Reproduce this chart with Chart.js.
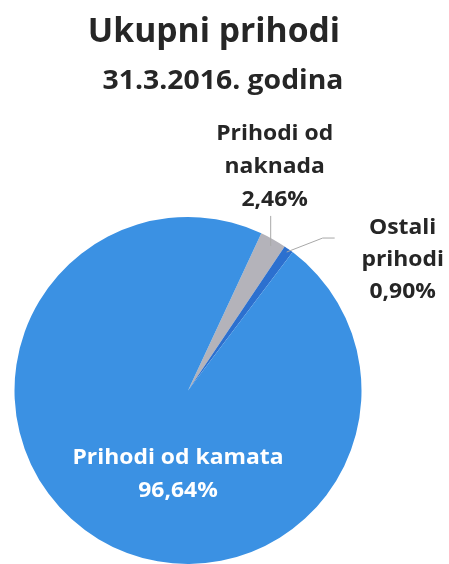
<!DOCTYPE html>
<html>
<head>
<meta charset="utf-8">
<script src="https://cdn.jsdelivr.net/npm/chart.js@4/dist/chart.umd.min.js"></script>
<style>
  html, body { margin: 0; padding: 0; background: #ffffff; }
  #wrap { width: 449px; height: 564px; position: relative; }
</style>
</head>
<body>
<div id="wrap"><canvas id="c" width="449" height="564"></canvas></div>
<script>
// ---- data ----
const categories = ['Prihodi od naknada', 'Ostali prihodi', 'Prihodi od kamata'];
const values = [2.46, 0.90, 96.64];
const valueLabels = ['2,46%', '0,90%', '96,64%'];
const nameLines = [['Prihodi od', 'naknada'], ['Ostali', 'prihodi'], ['Prihodi od kamata']];
const titleText = 'Ukupni prihodi';
const subtitleText = '31.3.2016. godina';

const colors = ['#b4b3ba', '#2c70cf', '#3b91e3'];
const FONT = '"Open Sans", Lato, sans-serif';

function wideText(ctx, t, x, y, sx) {
  ctx.save();
  ctx.translate(x, y);
  ctx.scale(sx, 1);
  ctx.fillText(t, 0, 0);
  ctx.restore();
}

const labelPlugin = {
  id: 'customLabels',
  afterDatasetsDraw(chart) {
    const ctx = chart.ctx;
    const meta = chart.getDatasetMeta(0);
    ctx.save();
    // titles
    ctx.fillStyle = '#262626';
    ctx.textAlign = 'center';
    ctx.textBaseline = 'alphabetic';
    ctx.font = 'bold 34px ' + FONT;
    wideText(ctx, titleText, 214, 42, 0.99);
    ctx.font = 'bold 26px ' + FONT;
    wideText(ctx, subtitleText, 223, 89, 1.09);

    const outer = (arc, f) => {
      const a = (arc.startAngle + arc.endAngle) / 2;
      return { x: arc.x + Math.cos(a) * arc.outerRadius * f, y: arc.y + Math.sin(a) * arc.outerRadius * f, a };
    };
    ctx.font = 'bold 21px ' + FONT;
    ctx.strokeStyle = '#a8a8a8';
    ctx.lineWidth = 1;
    const SX = 1.09;

    // slice 0: naknada (label above, vertical leader)
    {
      const p = outer(meta.data[0], 0.97);
      ctx.beginPath();
      ctx.moveTo(p.x, p.y + 2);
      ctx.lineTo(p.x, p.y - 28);
      ctx.stroke();
      const lines = nameLines[0].concat([valueLabels[0]]);
      const baseX = p.x + 4, lastY = p.y - 38;
      lines.forEach((t, i) => {
        ctx.fillStyle = '#262626';
        wideText(ctx, t, baseX, lastY - (lines.length - 1 - i) * 33, SX);
      });
    }
    // slice 1: ostali (label right, bent leader)
    {
      const p = outer(meta.data[1], 0.98);
      ctx.beginPath();
      ctx.moveTo(p.x, p.y);
      ctx.lineTo(p.x + 36, p.y - 14);
      ctx.lineTo(p.x + 48, p.y - 14);
      ctx.stroke();
      const lines = nameLines[1].concat([valueLabels[1]]);
      const baseX = p.x + 116, firstY = p.y - 18;
      lines.forEach((t, i) => {
        ctx.fillStyle = '#262626';
        wideText(ctx, t, baseX, firstY + i * 32, SX);
      });
    }
    // slice 2: kamata (label inside, white)
    {
      const arc = meta.data[2];
      const lines = nameLines[2].concat([valueLabels[2]]);
      lines.forEach((t, i) => {
        ctx.fillStyle = '#ffffff';
        wideText(ctx, t, arc.x - 10, arc.y + 73 + i * 33, SX);
      });
    }
    ctx.restore();
  }
};

new Chart(document.getElementById('c'), {
  type: 'pie',
  data: {
    labels: categories,
    datasets: [{
      data: values,
      backgroundColor: colors,
      borderWidth: 0
    }]
  },
  options: {
    responsive: false,
    animation: false,
    rotation: 25,
    layout: { padding: { top: 217, left: 13, right: 86, bottom: -3 } },
    plugins: {
      legend: { display: false },
      tooltip: { enabled: false },
      title: { display: false }
    }
  },
  plugins: [labelPlugin]
});
</script>
</body>
</html>
